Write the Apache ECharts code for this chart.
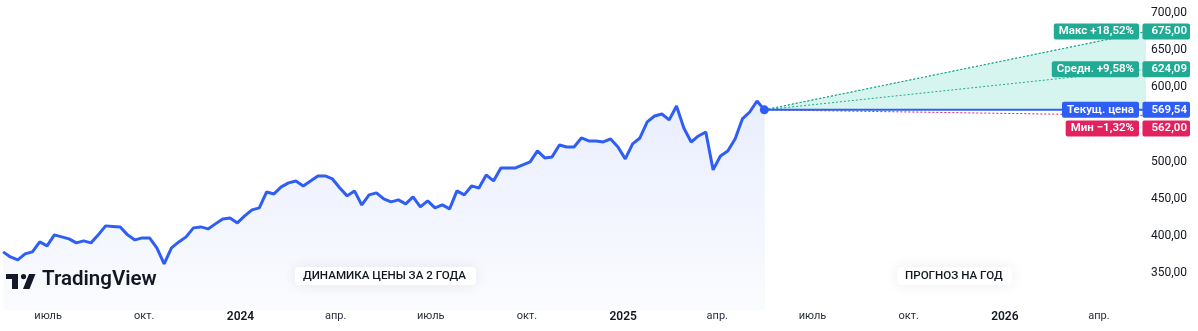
<!DOCTYPE html>
<html>
<head>
<meta charset="utf-8">
<script src="https://cdn.jsdelivr.net/npm/echarts@6/dist/echarts.min.js"></script>
<style>
html,body{margin:0;padding:0;background:#fff;}
#c{width:1198px;height:331px;}
</style>
</head>
<body>
<div id="c"></div>
<script>
// ---- data ----
const dates = [
'2023-05-19','2023-05-26','2023-06-02','2023-06-09','2023-06-16','2023-06-23','2023-06-30','2023-07-07','2023-07-14','2023-07-21','2023-07-28','2023-08-04','2023-08-11','2023-08-18','2023-08-25','2023-09-01','2023-09-08','2023-09-15','2023-09-22','2023-09-29','2023-10-06','2023-10-13','2023-10-20','2023-10-27','2023-11-03','2023-11-10','2023-11-17','2023-11-24','2023-12-01','2023-12-08','2023-12-15','2023-12-22','2023-12-29',
'2024-01-05','2024-01-12','2024-01-19','2024-01-26','2024-02-02','2024-02-09','2024-02-16','2024-02-23','2024-03-01','2024-03-08','2024-03-15','2024-03-22','2024-03-29','2024-04-05','2024-04-12','2024-04-19','2024-04-26','2024-05-03','2024-05-10','2024-05-17','2024-05-24','2024-05-31','2024-06-07','2024-06-14','2024-06-21','2024-06-28','2024-07-05','2024-07-12','2024-07-19','2024-07-26','2024-08-02','2024-08-09','2024-08-16','2024-08-23','2024-08-30','2024-09-06','2024-09-13','2024-09-20','2024-09-27','2024-10-04','2024-10-11','2024-10-18','2024-10-25','2024-11-01','2024-11-08','2024-11-15','2024-11-22','2024-11-29','2024-12-06','2024-12-13','2024-12-20','2024-12-27',
'2025-01-03','2025-01-10','2025-01-17','2025-01-24','2025-01-31','2025-02-07','2025-02-14','2025-02-21','2025-02-28','2025-03-07','2025-03-14','2025-03-21','2025-03-28','2025-04-04','2025-04-11','2025-04-18','2025-04-25','2025-05-02','2025-05-09','2025-05-16'
];
const prices = [
378.3,371.5,367.5,375.6,378.3,391.7,386.3,401.2,398.5,395.8,390.4,393.1,390.4,401.2,413.3,412.6,411.9,401.2,394.4,397.1,397.1,383.7,362.1,383.7,391.7,398.5,410.6,411.9,409.2,416.0,422.7,424.0,417.3,
426.7,434.8,437.5,459.0,456.3,465.8,471.2,473.8,467.1,473.8,480.6,480.6,476.5,464.4,453.7,460.4,441.5,455.0,457.7,449.6,445.6,448.3,442.9,452.3,438.8,446.9,437.5,441.5,436.2,460.4,455.0,467.1,464.4,481.9,473.8,491.3,491.3,491.3,495.4,499.4,514.2,504.8,506.2,522.3,519.6,519.6,531.7,527.7,527.7,526.3,530.4,519.6,
503.5,523.7,531.7,553.3,561.3,564.0,556.0,574.8,545.2,526.3,534.4,539.8,488.7,507.5,514.2,530.4,557.3,566.7,581.5,569.54
];
const axisStart = '2023-05-16';
const forecastEnd = '2026-05-16';
const currentPrice = 569.54;
const forecastMax = 675.00;
const forecastAvg = 624.09;
const forecastMin = 562.00;
const forecastNames = ['Макс +18,52%', 'Средн. +9,58%', 'Текущ. цена', 'Мин −1,32%'];
const tickDates = ['2023-07-01','2023-10-01','2024-01-01','2024-04-01','2024-07-01','2024-10-01','2025-01-01','2025-04-01','2025-07-01','2025-10-01','2026-01-01','2026-04-01'];
const tickLabels = ['июль','окт.','2024','апр.','июль','окт.','2025','апр.','июль','окт.','2026','апр.'];
const hiddenPriceTicks = [300, 550];
const sectionTitles = ['ДИНАМИКА ЦЕНЫ ЗА 2 ГОДА', 'ПРОГНОЗ НА ГОД'];

// ---- chart ----
const FONT = 'Roboto, "Noto Sans", sans-serif';
const BLUE = '#2f5ef5', GREEN = '#22ab94', RED = '#e3215f', TEXT = '#131722';
const ts = d => Date.UTC(+d.slice(0, 4), +d.slice(5, 7) - 1, +d.slice(8, 10));
const lastT = ts(dates[dates.length - 1]);
const endT = ts(forecastEnd);
const fmt = v => v.toFixed(2).replace('.', ',');
const tickTs = tickDates.map(ts);

const chart = echarts.init(document.getElementById('c'), null, {renderer: 'canvas'});

function tagSeries(text, value, color, pos, align, pad, offsetY, z) {
  return {
    type: 'scatter', symbolSize: 0, z: z, silent: true,
    itemStyle: {opacity: 1},
    data: [[endT, value]],
    label: {
      show: true, formatter: text, position: pos, align: align, verticalAlign: 'middle',
      offset: [0, offsetY], color: '#fff', backgroundColor: color, borderRadius: 2,
      padding: pad, fontFamily: FONT, fontSize: 11.5, fontWeight: 600, lineHeight: 13
    }
  };
}
function tagPair(name, value, color, offsetY, z) {
  return [
    tagSeries(name, value, color, [-7, 0], 'right', [2, 5, 1, 5], offsetY, z),
    tagSeries(fmt(value), value, color, [44, 0], 'right', [2, 3, 1, 9], offsetY, z)
  ];
}

const option = {
  animation: false,
  backgroundColor: '#fff',
  grid: {left: 0, right: 52, top: 13, bottom: 21},
  xAxis: {
    type: 'value', min: ts(axisStart), max: endT,
    axisLine: {show: false}, axisTick: {show: false}, splitLine: {show: false},
    axisLabel: {
      customValues: tickTs, margin: 1, hideOverlap: false,
      formatter: (v) => {
        const i = tickTs.indexOf(+v);
        const t = i >= 0 ? tickLabels[i] : '';
        return /^\d{4}$/.test(t) ? '{y|' + t + '}' : '{m|' + t + '}';
      },
      rich: {
        m: {fontFamily: FONT, fontSize: 11, color: '#2a2e39'},
        y: {fontFamily: FONT, fontSize: 12, fontWeight: 600, color: TEXT}
      }
    }
  },
  yAxis: {
    type: 'value', position: 'right', min: 300, max: 700, interval: 50,
    axisLine: {show: false}, axisTick: {show: false}, splitLine: {show: false},
    axisLabel: {
      align: 'right', margin: 41, fontFamily: FONT, fontSize: 12, color: TEXT,
      formatter: v => hiddenPriceTicks.includes(v) ? '' : fmt(v)
    }
  },
  series: [
    { // history line
      type: 'line', data: dates.map((d, i) => [ts(d), prices[i]]), showSymbol: false, z: 5,
      lineStyle: {color: BLUE, width: 3}, itemStyle: {color: BLUE},
      areaStyle: {color: new echarts.graphic.LinearGradient(0, 0, 0, 1, [
        {offset: 0, color: 'rgba(47,94,245,0.15)'}, {offset: 1, color: 'rgba(47,94,245,0.03)'}])}
    },
    { // max fan with teal fill
      type: 'line', data: [[lastT, currentPrice], [endT, forecastMax]],
      showSymbol: false, z: 2, lineStyle: {color: GREEN, width: 1, type: [2, 2]},
      areaStyle: {color: '#d6f5ee', opacity: 1}
    },
    { // white mask below current price
      type: 'line', data: [[lastT, currentPrice], [endT, currentPrice]],
      showSymbol: false, z: 3, lineStyle: {width: 0, opacity: 0},
      areaStyle: {color: '#ffffff', opacity: 1}
    },
    { // max line redrawn on top
      type: 'line', data: [[lastT, currentPrice], [endT, forecastMax]],
      showSymbol: false, z: 4, lineStyle: {color: GREEN, width: 1, type: [2, 2]}
    },
    { // avg
      type: 'line', data: [[lastT, currentPrice], [endT, forecastAvg]],
      showSymbol: false, z: 4, lineStyle: {color: GREEN, width: 1, type: [2, 2]}
    },
    { // min
      type: 'line', data: [[lastT, currentPrice], [endT, forecastMin]],
      showSymbol: false, z: 4, lineStyle: {color: RED, width: 1, type: [2, 2]}
    },
    { // current price line
      type: 'line', data: [[lastT, currentPrice], [endT, currentPrice]],
      showSymbol: false, z: 4, lineStyle: {color: BLUE, width: 2}
    },
    { // end dot
      type: 'scatter', data: [[lastT, currentPrice]], symbolSize: 9, z: 6,
      itemStyle: {color: BLUE, opacity: 1}
    },
    ...tagPair(forecastNames[0], forecastMax, GREEN, 0, 10),
    ...tagPair(forecastNames[1], forecastAvg, GREEN, 0, 10),
    ...tagPair(forecastNames[2], currentPrice, BLUE, 0, 11),
    ...tagPair(forecastNames[3], forecastMin, RED, 13, 11)
  ],
  graphic: [
    {type: 'rect', left: 295, top: 267, shape: {width: 181, height: 18, r: 4}, z: 20,
     style: {fill: '#fff', shadowBlur: 14, shadowColor: 'rgba(0,0,0,0.08)'}},
    {type: 'text', left: 303, top: 270, z: 21, style: {text: sectionTitles[0], fill: TEXT, font: '500 11.6px ' + FONT}},
    {type: 'rect', left: 897, top: 267, shape: {width: 115, height: 18, r: 4}, z: 20,
     style: {fill: '#fff', shadowBlur: 14, shadowColor: 'rgba(0,0,0,0.08)'}},
    {type: 'text', left: 905, top: 270, z: 21, style: {text: sectionTitles[1], fill: TEXT, font: '500 11.6px ' + FONT}},
    {type: 'group', left: 6, top: 274, z: 22, children: [
      {type: 'rect', shape: {x: 0, y: 0, width: 12, height: 5}, style: {fill: TEXT}},
      {type: 'rect', shape: {x: 6, y: 0, width: 6, height: 15}, style: {fill: TEXT}},
      {type: 'circle', shape: {cx: 17.5, cy: 2.6, r: 2.6}, style: {fill: TEXT}},
      {type: 'polygon', shape: {points: [[23, 0], [29.5, 0], [23.5, 15], [17, 15]]}, style: {fill: TEXT}}
    ]},
    {type: 'text', left: 42, top: 269, z: 22, style: {text: 'TradingView', fill: TEXT, font: '600 20.5px ' + FONT}}
  ]
};
chart.setOption(option);
</script>
</body>
</html>
